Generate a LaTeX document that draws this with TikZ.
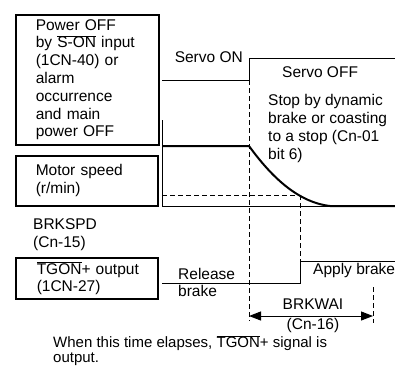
\documentclass[tikz,border=0pt]{standalone}
\usepackage{fontspec}
\setmainfont{Liberation Sans}
\usepackage{tikz}
\usetikzlibrary{arrows.meta}
\newcommand\cuerpo{\fontsize{15.5}{17.8}\selectfont}
\newcommand\negada[1]{$\overline{\hbox{#1}}$}

\begin{document}
\begin{tikzpicture}[x=1pt,y=-1pt,
  every node/.style={font=\cuerpo,inner sep=0pt},
  caja/.style={draw,line width=1.5pt,anchor=north west,inner xsep=20pt,align=left},
  texto/.style={anchor=west,align=left},
  onda/.style={line width=0.8pt},
  velocidad/.style={line width=2pt},
  guion/.style={line width=0.8pt,dash pattern=on 5pt off 3pt},
  cota/.style={line width=1pt,{Triangle[length=12pt,width=9pt]}-{Triangle[length=12pt,width=9pt]}}
]
\useasboundingbox (0,0) rectangle (395,367);
% cajas de la izquierda
\node[caja,minimum width=143pt,minimum height=130pt,text width=103pt] (apagado) at (15,14)
  {Power OFF\\ by \negada{S-ON} input\\ (1CN-40) or\\ alarm\\ occurrence\\ and main\\ power OFF};
\node[caja,minimum width=142pt,minimum height=50pt,text width=102pt] (motor) at (15,155)
  {Motor speed\\ (r/min)};
\node[caja,inner xsep=21pt,minimum width=142pt,minimum height=41pt,text width=100pt] (tgon) at (15,257)
  {\mbox{\negada{TGON}+ output}\\ (1CN-27)};
\node[texto] (brkspd) at (33,234.5) {BRKSPD\\ (Cn-15)};
% rotulos
\node[anchor=east] (servoon) at (243,57) {Servo ON};
\node[texto] (servooff) at (282,72) {Servo OFF};
\node[texto] (parada) at (268,128.5) {Stop by dynamic\\ brake or coasting\\ to a stop (Cn-01\\ bit 6)};
\node[texto] (libera) at (178,282.5) {Release\\ brake};
\node[texto] (aplica) at (313,270) {Apply brake};
\node (brkwai) at (313,304) {BRKWAI};
\node (cn16) at (313,325.5) {(Cn-16)};
\node[texto,font=\fontsize{15}{15}\selectfont] (nota) at (53,350.5)
  {When this time elapses, \negada{TGON}+ signal is\\ output.};
% senales
\draw[onda] (162,80) -- (249,80) -- (249,58) -- (395,58);
\draw[onda] (162,120) -- (162,206) -- (330,206);
\draw[velocidad] (162,146) -- (249,146) .. controls (268,172) and (295,202) .. (330,206) -- (395,206);
\draw[guion] (162,195) -- (300,195);
\draw[onda] (162,283) -- (300,283) -- (300,261) -- (395,261);
% guias y cota
\coordinate (ini) at (249,316);
\coordinate (fin) at (373,316);
\draw[guion] (249,80) -- (249,321);
\draw[guion] (300,195) -- (300,261);
\draw[guion] (373,287) -- (373,323);
\draw[cota] (ini) -- (fin);
\end{tikzpicture}
\end{document}
